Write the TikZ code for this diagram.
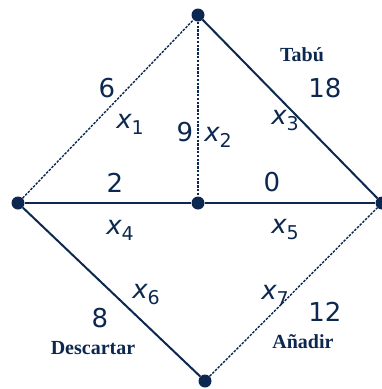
\documentclass[tikz,border=0pt]{standalone}
\usepackage{fontspec}
\setmainfont{Liberation Serif}
\newfontfamily\numfont{DejaVu Sans}
\definecolor{navy}{RGB}{12,40,80}
\begin{document}
\begin{tikzpicture}[x=1pt,y=-1pt,
  vert/.style={circle,fill=navy,inner sep=0pt,minimum size=13pt},
  solidedge/.style={draw=navy,line width=2pt},
  dashedge/.style={draw=navy,line width=1.4pt,dash pattern=on 2.5pt off 1.3pt},
  num/.style={text=navy,font=\numfont\fontsize{26}{28}\selectfont,inner sep=0pt},
  var/.style={text=navy,font=\numfont\itshape\fontsize{26}{28}\selectfont,inner sep=0pt},
  lab/.style={text=navy,font=\bfseries\fontsize{20}{22}\selectfont,inner sep=0pt}]
\useasboundingbox (0,0) rectangle (382,389);
\node[vert] (T) at (198,15) {};
\node[vert] (L) at (18,203) {};
\node[vert] (C) at (198,203) {};
\node[vert] (R) at (382,203) {};
\node[vert] (B) at (205,381) {};
\draw[dashedge] (L) -- (T);
\draw[dashedge] (T) -- (C);
\draw[solidedge] (T) -- (R);
\draw[solidedge] (L) -- (C);
\draw[solidedge] (C) -- (R);
\draw[solidedge] (L) -- (B);
\draw[dashedge] (B) -- (R);
\node[num] (n6) at (107,88) {6};
\node[var] (x1) at (130,124) {x{\fontsize{19}{20}\selectfont\upshape\raisebox{-6pt}{1}}};
\node[num] (n9) at (185,132) {9};
\node[var] (x2) at (218,137) {x{\fontsize{19}{20}\selectfont\upshape\raisebox{-6pt}{2}}};
\node[num] (n2) at (115,183) {2};
\node[num] (n0) at (272,182) {0};
\node[lab] (tabu) at (302,55) {Tabú};
\node[num] (n18) at (325,88) {18};
\node[var] (x3) at (285,121) {x{\fontsize{19}{20}\selectfont\upshape\raisebox{-6pt}{3}}};
\node[var] (x4) at (120,230) {x{\fontsize{19}{20}\selectfont\upshape\raisebox{-6pt}{4}}};
\node[var] (x5) at (285,230) {x{\fontsize{19}{20}\selectfont\upshape\raisebox{-6pt}{5}}};
\node[var] (x6) at (146,295) {x{\fontsize{19}{20}\selectfont\upshape\raisebox{-6pt}{6}}};
\node[num] (n8) at (100,318) {8};
\node[lab] (desc) at (93,348) {Descartar};
\node[var] (x7) at (275,295) {x{\fontsize{19}{20}\selectfont\upshape\raisebox{-6pt}{7}}};
\node[num] (n12) at (325,312) {12};
\node[lab] (anad) at (303,342) {Añadir};
\end{tikzpicture}
\end{document}
